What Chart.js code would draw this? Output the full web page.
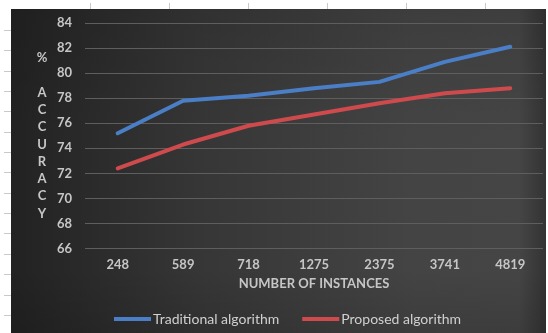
<!DOCTYPE html>
<html>
<head>
<meta charset="utf-8">
<script src="https://cdn.jsdelivr.net/npm/chart.js@4/dist/chart.umd.min.js"></script>
<style>
  html, body { margin: 0; padding: 0; background: #ffffff; }
  canvas { display: block; }
</style>
</head>
<body>
<canvas id="chart" width="548" height="333"></canvas>
<script>
// Dataset sizes and the accuracy (%) of each algorithm
const instances = ['248', '589', '718', '1275', '2375', '3741', '4819'];
const traditionalAccuracy = [75.2, 77.8, 78.2, 78.8, 79.3, 80.9, 82.1];
const proposedAccuracy = [72.4, 74.3, 75.8, 76.7, 77.6, 78.4, 78.8];
const yTitleLetters = ['%', '', 'A', 'C', 'C', 'U', 'R', 'A', 'C', 'Y'];

const FONT = 'Lato, "Open Sans", "DejaVu Sans", sans-serif';
const LABEL_GRAY = '#c6c6c6';

// Page frame: white margin with ruler marks, dark gradient chart panel
const panelBackground = {
  id: 'panelBackground',
  beforeDraw(chart) {
    const ctx = chart.ctx;
    const w = chart.width, h = chart.height;
    ctx.save();
    ctx.fillStyle = '#ffffff';
    ctx.fillRect(0, 0, w, h);

    // ruler marks along the left and top margin
    ctx.strokeStyle = '#c9c9c9';
    ctx.lineWidth = 1;
    ctx.beginPath();
    for (let y = 30; y < h; y += 20.35) {
      ctx.moveTo(4, Math.round(y) + 0.5);
      ctx.lineTo(11, Math.round(y) + 0.5);
    }
    for (let x = 90; x < w; x += 79) {
      ctx.moveTo(Math.round(x) + 0.5, 3);
      ctx.lineTo(Math.round(x) + 0.5, 9);
    }
    ctx.stroke();

    const x0 = 11, y0 = 9, x1 = 546, y1 = h;
    const g = ctx.createLinearGradient(x0, 0, x1, 0);
    g.addColorStop(0, '#222222');
    g.addColorStop(0.35, '#363636');
    g.addColorStop(0.75, '#444444');
    g.addColorStop(0.95, '#454545');
    g.addColorStop(1, '#333333');
    ctx.fillStyle = g;
    ctx.fillRect(x0, y0, x1 - x0, y1 - y0);

    // soft shading toward the top and bottom edges
    const v = ctx.createLinearGradient(0, y0, 0, y1);
    v.addColorStop(0, 'rgba(0,0,0,0.10)');
    v.addColorStop(0.4, 'rgba(0,0,0,0)');
    v.addColorStop(0.8, 'rgba(0,0,0,0)');
    v.addColorStop(1, 'rgba(0,0,0,0.12)');
    ctx.fillStyle = v;
    ctx.fillRect(x0, y0, x1 - x0, y1 - y0);
    ctx.restore();
  }
};

// Vertical, letter-stacked title for the value axis
const stackedYTitle = {
  id: 'stackedYTitle',
  afterDraw(chart) {
    const ctx = chart.ctx;
    const area = chart.chartArea;
    const lineH = 17.3;
    const cy = (area.top + area.bottom) / 2;
    const start = cy - lineH * (yTitleLetters.length - 1) / 2;
    ctx.save();
    ctx.fillStyle = LABEL_GRAY;
    ctx.font = 'bold 13px ' + FONT;
    ctx.textAlign = 'center';
    ctx.textBaseline = 'middle';
    yTitleLetters.forEach((ch, i) => {
      if (ch) ctx.fillText(ch, 42, start + i * lineH);
    });
    ctx.restore();
  }
};

// Legend row under the axis title: a thick line sample right before each series name
const lineLegend = {
  id: 'lineLegend',
  afterDraw(chart) {
    const ctx = chart.ctx;
    const y = 319;
    const sample = 37, gap = 2, spacing = 23;
    let x = 114;
    ctx.save();
    ctx.font = '14px ' + FONT;
    ctx.textBaseline = 'middle';
    ctx.textAlign = 'left';
    chart.data.datasets.forEach(ds => {
      ctx.fillStyle = ds.borderColor;
      ctx.fillRect(x, y - 2, sample, 4);
      x += sample + gap;
      ctx.fillStyle = '#d0d0d0';
      ctx.fillText(ds.label, x, y);
      x += ctx.measureText(ds.label).width + spacing;
    });
    ctx.restore();
  }
};

new Chart(document.getElementById('chart'), {
  type: 'line',
  data: {
    labels: instances,
    datasets: [
      {
        label: 'Traditional algorithm',
        data: traditionalAccuracy,
        borderColor: '#4a7ec6',
        backgroundColor: '#4a7ec6',
        borderWidth: 4,
        borderCapStyle: 'round',
        borderJoinStyle: 'round',
        pointRadius: 0,
        tension: 0
      },
      {
        label: 'Proposed algorithm',
        data: proposedAccuracy,
        borderColor: '#cf4a4c',
        backgroundColor: '#cf4a4c',
        borderWidth: 4,
        borderCapStyle: 'round',
        borderJoinStyle: 'round',
        pointRadius: 0,
        tension: 0
      }
    ]
  },
  options: {
    responsive: false,
    animation: false,
    devicePixelRatio: 1,
    layout: { padding: { left: 11, right: 5, top: 23, bottom: 41 } },
    plugins: {
      legend: { display: false },
      tooltip: { enabled: false }
    },
    scales: {
      x: {
        offset: true,
        grid: { display: false, drawTicks: false },
        border: { display: false },
        ticks: {
          color: LABEL_GRAY,
          padding: 9,
          font: { family: FONT, size: 13, weight: 'bold' }
        },
        title: {
          display: true,
          text: 'NUMBER OF INSTANCES',
          color: LABEL_GRAY,
          padding: { top: 2, bottom: 0 },
          font: { family: FONT, size: 13, weight: 'bold' }
        },
        afterFit(scale) { scale.height = 43.5; }
      },
      y: {
        min: 66,
        max: 84,
        grid: { color: '#5e5e5e', lineWidth: 1, drawTicks: false },
        border: { display: false },
        ticks: {
          stepSize: 2,
          color: LABEL_GRAY,
          padding: 13,
          font: { family: FONT, size: 13, weight: 'bold' }
        },
        afterFit(scale) { scale.width = 74; }
      }
    }
  },
  plugins: [panelBackground, stackedYTitle, lineLegend]
});
</script>
</body>
</html>
